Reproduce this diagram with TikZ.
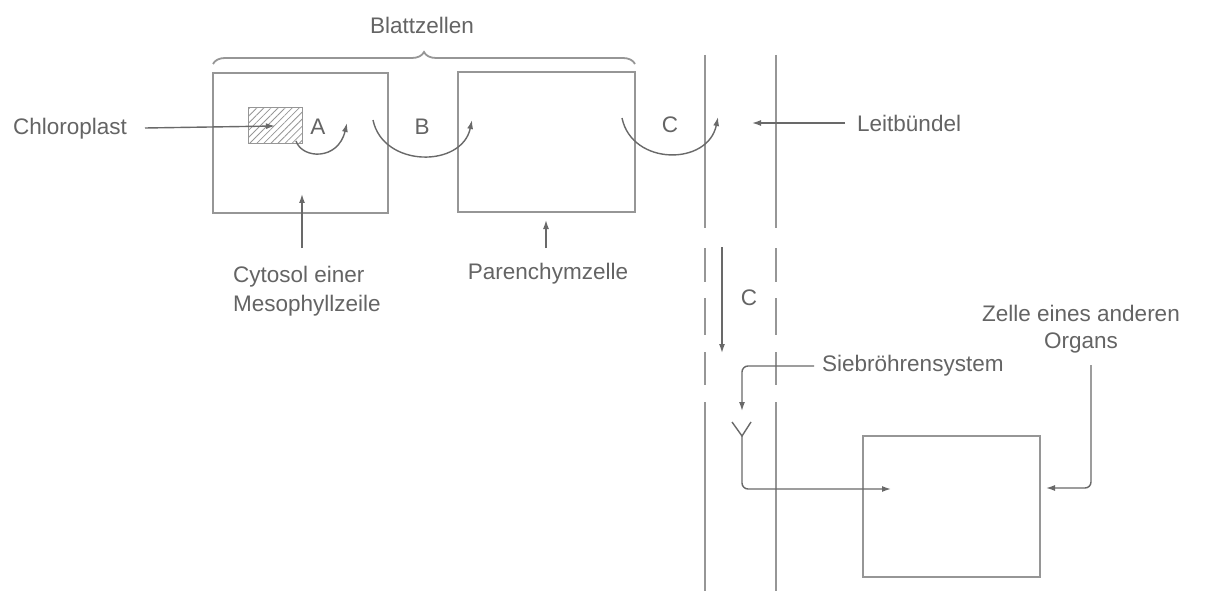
\documentclass[tikz,border=0pt]{standalone}
\usepackage{fontspec}
\setmainfont{Liberation Sans}
\usetikzlibrary{arrows.meta,decorations.pathreplacing,patterns.meta}
\definecolor{lc}{RGB}{150,150,150}
\definecolor{ac}{RGB}{105,105,105}
\definecolor{tc}{RGB}{100,100,100}
\begin{document}
\begin{tikzpicture}[x=1pt,y=-1pt,
  cell/.style={draw=lc,line width=2pt,inner sep=0pt,outer sep=0pt},
  lbl/.style={text=tc,font=\fontsize{22.5}{27}\selectfont,inner sep=0pt},
  conn/.style={draw=ac,line width=1.4pt,-{Latex[length=9pt,width=6pt]}},
  plainline/.style={draw=ac,line width=1.4pt},
  tube/.style={draw=lc,line width=2pt}]
\useasboundingbox[fill=white] (0,0) rectangle (1211,591);

% cells
\node[cell,minimum width=175,minimum height=140] (meso) at (300.5,143) {};
\node[cell,minimum width=177,minimum height=140] (paren) at (546.5,142) {};
\node[cell,minimum width=177,minimum height=141] (organ) at (951.5,506.5) {};
\node[cell,line width=1pt,minimum width=54,minimum height=36,
      pattern={Lines[angle=45,distance=5pt,line width=0.8pt]},pattern color=lc] (chloro) at (275,126) {};

% brace
\draw[lc,line width=1.8pt,decorate,decoration={brace,amplitude=12pt}]
  (213,64) -- (635,64);
\node[lbl] (blatt) at (422,25) {Blattzellen};

% vascular bundle lines
\foreach \xx in {705,776}{
  \draw[tube] (\xx,55) -- (\xx,228);
  \draw[tube] (\xx,248) -- (\xx,282);
  \draw[tube] (\xx,298) -- (\xx,335);
  \draw[tube] (\xx,352) -- (\xx,385);
  \draw[tube] (\xx,402) -- (\xx,591);
}

% labels
\node[lbl,anchor=west] (chl) at (13,129) {Chloroplast};
\node[lbl,anchor=west] (leit) at (857,123) {Leitbündel};
\node[lbl,anchor=north west,align=left] (cyto) at (233,266) {Cytosol einer\\[2pt]Mesophyllzeile};
\node[lbl] (par) at (548,274) {Parenchymzelle};
\node[lbl,anchor=west] (sieb) at (822,366) {Siebröhrensystem};
\node[lbl,align=center] (zelle) at (1081,329) {Zelle eines anderen\\Organs};
\node[lbl] (la) at (318,127) {A};
\node[lbl] (lb) at (422,127) {B};
\node[lbl] (lcc) at (670,125) {C};
\node[lbl] (lc2) at (749,298) {C};

% pointer arrows
\coordinate (chlS) at (145,128);
\draw[conn] (chlS) -- (chloro.center);
\coordinate (leitS) at (845,123);
\coordinate (leitE) at (752,123);
\draw[conn] (leitS) -- (leitE);
\coordinate (cytoS) at (302,248);
\coordinate (cytoE) at (302,194);
\draw[conn] (cytoS) -- (cytoE);
\coordinate (parS) at (546,248);
\coordinate (parE) at (546,220);
\draw[conn] (parS) -- (parE);

% transport arcs
\coordinate (a0) at (296,141); \coordinate (a1) at (347,123);
\draw[conn] (a0) .. controls (302,159) and (338,161) .. (a1);
\coordinate (b0) at (373,120); \coordinate (b1) at (472,120);
\draw[conn] (b0) .. controls (383,168) and (462,168) .. (b1);
\coordinate (c0) at (622,118); \coordinate (c1) at (718,117);
\draw[conn] (c0) .. controls (632,166) and (708,166) .. (c1);

% phloem transport
\coordinate (d0) at (722,247); \coordinate (d1) at (722,353);
\draw[conn] (d0) -- (d1);

% Siebroehrensystem pointer
\coordinate (s0) at (814,366); \coordinate (s1) at (742,411);
\draw[conn,rounded corners=6pt] (s0) -- (742,366) -- (s1);

% Y-shape and path to organ cell
\coordinate (yl) at (732,422); \coordinate (yr) at (751,422); \coordinate (ym) at (742,436);
\draw[plainline] (yl) -- (ym) -- (yr);
\coordinate (o1) at (891,489);
\draw[conn,rounded corners=6pt] (ym) -- (742,489) -- (o1);

% Zelle pointer
\coordinate (z0) at (1091,365); \coordinate (z1) at (1046,488);
\draw[conn,rounded corners=6pt] (z0) -- (1091,488) -- (z1);
\end{tikzpicture}
\end{document}
